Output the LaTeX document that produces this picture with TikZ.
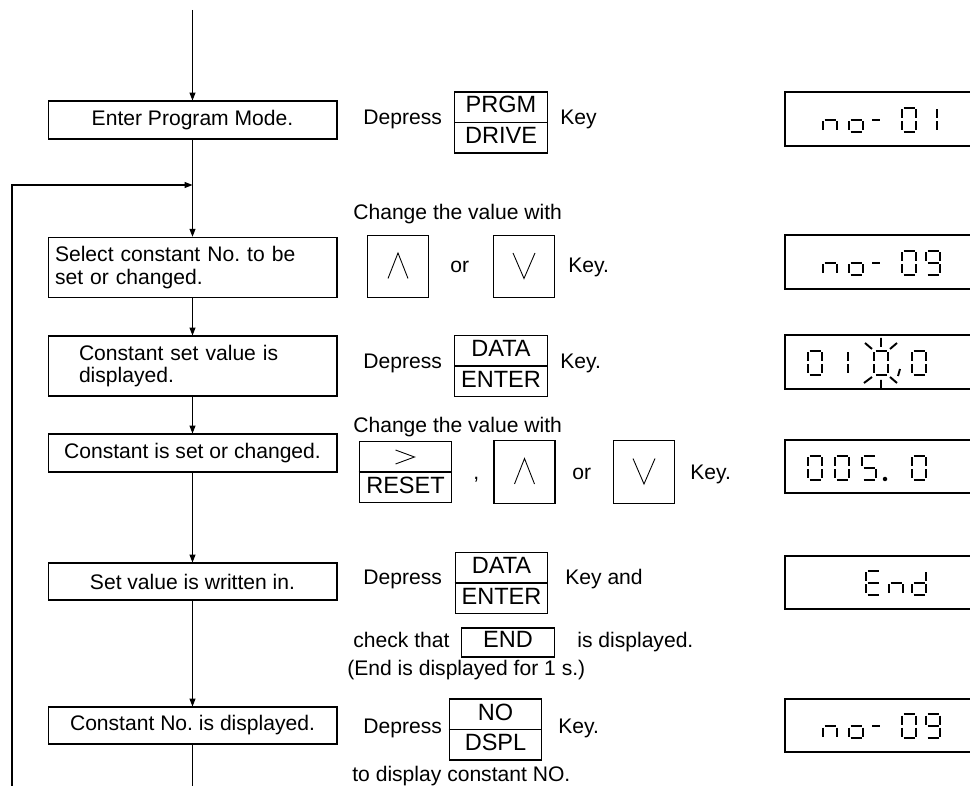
\documentclass[tikz,border=0pt]{standalone}
\usepackage{fontspec}
\setmainfont{Liberation Sans}
\usetikzlibrary{arrows.meta}
\frenchspacing

\newcommand{\flowfont}{\fontsize{12pt}{12.8pt}\selectfont}
\newcommand{\keyfont}{\fontsize{13.4pt}{14pt}\selectfont}

% seven segment strokes, digit cell 14 x 24
\newcommand{\segA}{(1.5,0) -- (12.5,0)}
\newcommand{\segB}{(14,1.5) -- (14,10.5)}
\newcommand{\segC}{(14,13.5) -- (14,22.5)}
\newcommand{\segD}{(1.5,24) -- (12.5,24)}
\newcommand{\segE}{(0,13.5) -- (0,22.5)}
\newcommand{\segF}{(0,1.5) -- (0,10.5)}
\newcommand{\segG}{(1.5,12) -- (12.5,12)}

\tikzset{
  flowbox/.style = {draw, line width=0.6pt, minimum width=5.78cm,
    minimum height=0.76cm, inner sep=0pt, font=\flowfont},
  twoline/.style = {flowbox, align=left, minimum height=1.21cm},
  keybox/.style = {draw, line width=0.6pt, minimum width=1.85cm,
    minimum height=1.22cm, inner sep=0pt},
  arrowkey/.style = {keybox, minimum width=1.22cm, minimum height=1.25cm},
  keytext/.style = {anchor=base, inner sep=0pt, font=\keyfont},
  note/.style = {anchor=base west, inner sep=0pt, font=\flowfont},
  flow/.style = {line width=0.6pt, -{Triangle[length=4.5pt, width=3.4pt]}},
  wire/.style = {line width=0.6pt},
  chev/.style = {line width=0.5pt},
  lcdframe/.style = {line width=0.6pt},
  segline/.style = {line width=1.1pt},
  upchev/.pic = {\draw[chev] (-10,12) -- (0,-13.5) -- (10,12);},
  downchev/.pic = {\draw[chev] (-11,-13.5) -- (0,12) -- (11,-13.5);},
  rightchev/.pic = {\draw[chev] (-10,-22) -- (9,-15) -- (-10,-8);},
  dzero/.pic = {\draw[segline] \segA\segB\segC\segD\segE\segF;},
  done/.pic = {\draw[segline] \segB\segC;},
  dfive/.pic = {\draw[segline] \segA\segF\segG\segC\segD;},
  dnine/.pic = {\draw[segline] \segA\segB\segC\segD\segF\segG;},
  dlown/.pic = {\draw[segline] \segE\segG\segC;},
  dlowo/.pic = {\draw[segline] \segG\segC\segD\segE;},
  dlowd/.pic = {\draw[segline] \segB\segC\segD\segE\segG;},
  dcapE/.pic = {\draw[segline] \segA\segD\segE\segF\segG;},
  dminus/.pic = {\draw[segline] (3,12) -- (11,12);},
  blink/.pic = {\draw[segline] (7,-13) -- (7,-4) (-9,-8) -- (-2,-2)
    (23,-8) -- (16,-2) (7,29) -- (7,37) (-10,32) -- (-2,26) (23,32) -- (16,26);}
}

% key with upper and lower legend
\newcommand{\dualkey}[4]{%
  \node[keybox] (#1) at #2 {};
  \draw[wire] (#1.west) -- (#1.east);
  \node[keytext] (#1-up) at ([yshift=0.19cm]#1.center) {#3};
  \node[keytext] (#1-lo) at ([yshift=-0.43cm]#1.center) {#4};
}

\begin{document}
\begin{tikzpicture}[x=0.02cm, y=-0.02cm]
\useasboundingbox (0,0) rectangle (970,786);

% flow column
\node[flowbox] (enter) at (192.5,120) {Enter Program Mode.};
\node[twoline, text width=5.5cm, inner xsep=0.14cm] (select) at (192.5,267.5)
  {Select constant No. to be\\set or changed.};
\node[twoline, text width=4.54cm, inner xsep=0.62cm, minimum height=1.2cm] (cshow)
  at (192.5,366) {Constant set value is\\displayed.};
\node[flowbox] (cset) at (192.5,453) {Constant is set or changed.};
\node[flowbox, minimum height=0.74cm] (written) at (192.5,581.5) {Set value is written in.};
\node[flowbox, minimum height=0.74cm] (cno) at (192.5,725.5) {Constant No. is displayed.};

\coordinate (entry) at (192.5,10);
\coordinate (join) at (192.5,185);
\coordinate (loopend) at (12,786);
\coordinate (exit) at (192.5,786);

\draw[flow] (entry) -- (enter);
\draw[flow] (enter) -- (select);
\draw[flow] (loopend) |- (join);
\draw[flow] (select) -- (cshow);
\draw[flow] (cshow) -- (cset);
\draw[flow] (cset) -- (written);
\draw[flow] (written) -- (cno);
\draw[wire] (cno) -- (exit);

% operations
\node[note] (dep1) at (363,125) {Depress};
\dualkey{prgm}{(501,122.5)}{PRGM}{DRIVE}
\node[note] (key1) at (560,125) {Key};

\node[note] (chg2) at (353,220) {Change the value with};
\node[arrowkey] (up2) at (398,266.5) {};
\pic at (up2.center) {upchev};
\node[note] (or2) at (450,273) {or};
\node[arrowkey] (dn2) at (524,266.5) {};
\pic at (dn2.center) {downchev};
\node[note] (key2) at (568,273) {Key.};

\node[note] (dep3) at (363,369) {Depress};
\dualkey{data3}{(501,366)}{DATA}{ENTER}
\node[note] (key3) at (560,369) {Key.};

\node[note] (chg4) at (353,433) {Change the value with};
\dualkey{reset}{(405.5,472)}{}{RESET}
\pic at (reset.center) {rightchev};
\node[note] (comma4) at (473,480) {,};
\node[arrowkey] (up4) at (524.5,472) {};
\pic at (up4.center) {upchev};
\node[note] (or4) at (572,480) {or};
\node[arrowkey] (dn4) at (644,472) {};
\pic at (dn4.center) {downchev};
\node[note] (key4) at (690,480) {Key.};

\node[note] (dep5) at (363,585) {Depress};
\dualkey{data5}{(501.5,583)}{DATA}{ENTER}
\node[note] (key5) at (565,585) {Key and};
\node[note] (check) at (353,647) {check that};
\node[keybox, minimum height=0.58cm] (endkey) at (508,642.5) {};
\node[keytext] (endtxt) at (508,647) {END};
\node[note] (shown) at (577,647) {is displayed.};
\node[note] (endnote) at (347,675) {(End is displayed for 1 s.)};

\node[note] (dep6) at (363,733) {Depress};
\dualkey{nokey}{(495.5,729.5)}{NO}{DSPL}
\node[note] (key6) at (558,733) {Key.};
\node[note] (todisp) at (352,781) {to display constant NO.};

% displays
\foreach \ta/\tb in {92/146, 235/289, 335/389, 440/493, 556/609, 699/752}
  \draw[lcdframe] (970,\ta) -| (785,\tb) -- (970,\tb);

\foreach \ty in {108,251,714} {
  \pic at (823,\ty) {dlown};
  \pic at (849,\ty) {dlowo};
  \pic at (869,\ty) {dminus};
  \pic at (902,\ty) {dzero};
}
\pic at (923,108) {done};
\pic at (926,251) {dnine};
\pic at (926,714) {dnine};

\pic at (808,351) {dzero};
\pic at (834,351) {done};
\pic at (874,351) {dzero};
\pic at (874,351) {blink};
\draw[segline] (900,369) -- (898,376);
\pic at (912,351) {dzero};

\pic at (808,456) {dzero};
\pic at (835,456) {dzero};
\pic at (862,456) {dfive};
\fill (885,479) circle[radius=0.045cm];
\pic at (912,456) {dzero};

\pic at (866,571) {dcapE};
\pic at (889,571) {dlown};
\pic at (912,571) {dlowd};
\end{tikzpicture}
\end{document}
